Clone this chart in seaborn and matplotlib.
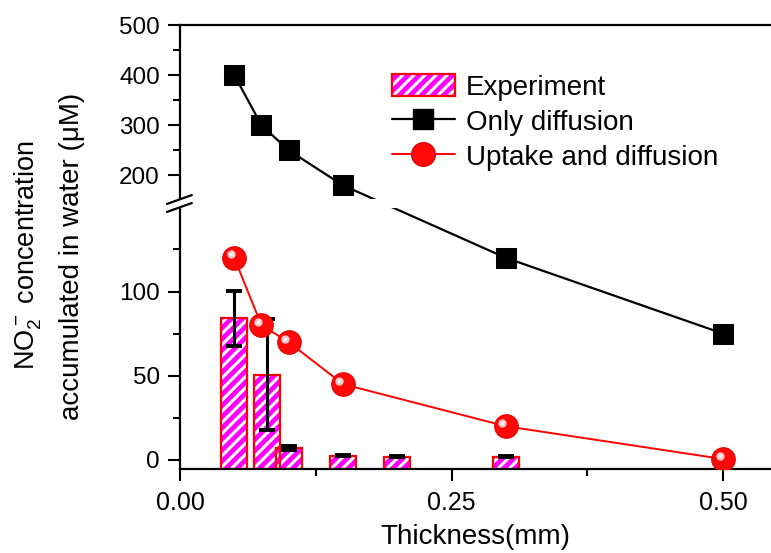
import matplotlib
matplotlib.use("Agg")
import matplotlib.pyplot as plt
import matplotlib.transforms as mtransforms
from matplotlib.patches import Patch
from matplotlib.lines import Line2D
from matplotlib.legend_handler import HandlerTuple
from matplotlib.ticker import FixedLocator, FuncFormatter
import numpy as np
import pandas as pd
import seaborn as sns

# data
thick_model = [0.05, 0.075, 0.1, 0.15, 0.3, 0.5]
only_diffusion = [400, 300, 250, 180, 120, 75]
uptake_diffusion = [120, 80, 70, 45, 20, 0.5]

thick_exp = [0.05, 0.08, 0.1, 0.15, 0.2, 0.3]
exp_mean = [84, 50.5, 7, 2.6, 2.0, 2.0]
exp_err = [16.5, 33, 1, 0.5, 0.5, 0.5]

y_major = [0, 50, 100, 200, 300, 400, 500]
y_minor = [25, 75, 125, 250, 350, 450]
x_major = [0.0, 0.25, 0.5]
x_minor = [0.125, 0.375]

sns.set_style("ticks")
plt.rcParams['font.family'] = ['Liberation Sans', 'DejaVu Sans']
plt.rcParams['mathtext.fontset'] = 'custom'
plt.rcParams['mathtext.rm'] = 'Liberation Sans'
plt.rcParams['mathtext.it'] = 'Liberation Sans'
plt.rcParams['hatch.linewidth'] = 2.2
for key in ('text.color', 'axes.labelcolor', 'xtick.color', 'ytick.color'):
    plt.rcParams[key] = 'black'

df_model = pd.DataFrame({'thickness': thick_model,
                         'only': only_diffusion,
                         'uptake': uptake_diffusion})


# broken y axis: 0-150 stretched, 152-500 compressed
def fwd(v):
    v = np.asarray(v, dtype=float)
    return np.where(v <= 150, 1.68 * v,
                    np.where(v <= 152, 252 + (v - 150) * 4, 260 + (v - 152) * 0.5))


def inv(h):
    h = np.asarray(h, dtype=float)
    return np.where(h <= 252, h / 1.68,
                    np.where(h <= 260, 150 + (h - 252) / 4, 152 + (h - 260) * 2))


fig = plt.figure(figsize=(7.71, 5.53), dpi=100)
ax = fig.add_axes([180 / 771, 84 / 553, 591 / 771, 444 / 553])
ax.set_yscale('function', functions=(fwd, inv))
ax.set_ylim(-5.4, 500)
ax.set_xlim(0, 0.544)

ybot = -5.4
bar_w = 0.024
heights = [m - ybot for m in exp_mean]
ax.bar(thick_exp, heights, bottom=ybot, width=bar_w, color='#ff00ff',
       edgecolor='white', hatch='///', linewidth=0, zorder=2)
ax.bar(thick_exp, heights, bottom=ybot, width=bar_w, facecolor='none',
       edgecolor='red', linewidth=1.6, zorder=2.1)
ax.errorbar(thick_exp, exp_mean, yerr=exp_err, fmt='none', ecolor='black',
            elinewidth=2.2, capsize=5.5, capthick=2.8, zorder=2.2)

sns.lineplot(data=df_model, x='thickness', y='only', ax=ax, color='black',
             linewidth=1.6, marker='s', markersize=14.5, markeredgecolor='black',
             markerfacecolor='black', zorder=3, legend=False)
sns.lineplot(data=df_model, x='thickness', y='uptake', ax=ax, color='red',
             linewidth=1.4, marker='o', markersize=17, markeredgecolor='#e00000',
             markerfacecolor='#ff0808', zorder=3, legend=False)
# ball highlight
hl = mtransforms.offset_copy(ax.transData, fig=fig, x=-3.5, y=3.5, units='dots')
ax.plot(thick_model, uptake_diffusion, linestyle='none', marker='o', markersize=6,
        markerfacecolor='#ffc8c8', markeredgewidth=0, transform=hl, zorder=3.1)
ax.plot(thick_model, uptake_diffusion, linestyle='none', marker='o', markersize=2.5,
        markerfacecolor='white', markeredgewidth=0, transform=hl, zorder=3.2)

# axis break
ax.add_patch(plt.Rectangle((-0.01, 0.588), 1.02, 0.021, transform=ax.transAxes,
                           facecolor='white', edgecolor='none', clip_on=False, zorder=4))
for y0 in (0.579, 0.597):
    ax.plot([-0.022, 0.020], [y0, y0 + 0.02], color='black', linewidth=1.6,
            transform=ax.transAxes, clip_on=False, zorder=5)

ax.yaxis.set_major_locator(FixedLocator(y_major))
ax.yaxis.set_minor_locator(FixedLocator(y_minor))
ax.yaxis.set_major_formatter(FuncFormatter(lambda v, p: '%d' % round(v)))
ax.yaxis.set_minor_formatter(FuncFormatter(lambda v, p: ''))
ax.xaxis.set_major_locator(FixedLocator(x_major))
ax.xaxis.set_minor_locator(FixedLocator(x_minor))
ax.xaxis.set_major_formatter(FuncFormatter(lambda v, p: '%.2f' % v))

ax.tick_params(axis='both', which='major', direction='out', length=8.5, width=1.5,
               color='black', labelcolor='black')
ax.tick_params(axis='both', which='minor', direction='out', length=5, width=1.5,
               color='black')
ax.tick_params(axis='y', labelsize=17.5, pad=6)
ax.tick_params(axis='x', labelsize=18, pad=7)
ax.tick_params(top=False, right=False)

for side in ('left', 'bottom', 'top'):
    ax.spines[side].set_linewidth(1.6)
    ax.spines[side].set_color('black')
ax.spines['right'].set_visible(False)

ax.set_xlabel('Thickness(mm)', fontsize=20, labelpad=7, color='black')
ax.set_ylabel('')
fig.text(28 / 771, 1 - 255 / 553, r'NO$_2^-$ concentration', rotation=90,
         ha='center', va='center', fontsize=19.5, color='black')
fig.text(72 / 771, 1 - 256 / 553, 'accumulated in water (\u03bcM)', rotation=90,
         ha='center', va='center', fontsize=20, color='black')

h_exp = (Patch(facecolor='#ff00ff', edgecolor='white', hatch='///', linewidth=0),
         Patch(facecolor='none', edgecolor='red', linewidth=1.6))
h_only = Line2D([], [], color='black', linewidth=1.6, marker='s', markersize=14.5)
h_up = Line2D([], [], color='red', linewidth=1.4, marker='o', markersize=17,
              markerfacecolor='#ff0808', markeredgecolor='#e00000')
leg = fig.legend([h_exp, h_only, h_up], ['Experiment', 'Only diffusion', 'Uptake and diffusion'],
                 handler_map={tuple: HandlerTuple(ndivide=1, pad=0)},
                 loc='upper left', bbox_to_anchor=(392 / 771, 1 - 74 / 553),
                 frameon=False, fontsize=20, handlelength=2.25, handleheight=0.85,
                 handletextpad=0.4, labelspacing=0.3, borderaxespad=0, borderpad=0)
for t in leg.get_texts():
    t.set_color('black')

fig.savefig('out.png', dpi=100)
